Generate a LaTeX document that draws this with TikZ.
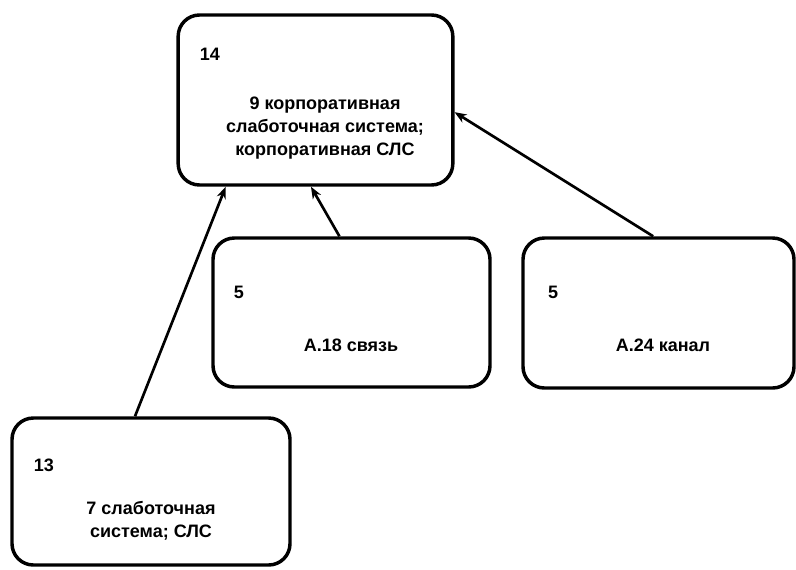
\documentclass[tikz,border=0pt]{standalone}
\usepackage{fontspec}
\setmainfont{Liberation Sans}
\usetikzlibrary{arrows.meta}
\tikzset{
  termbox/.style={draw, line width=2.6pt, rounded corners=16pt, inner sep=0pt},
  numlabel/.style={font=\bfseries\fontsize{13.5}{17}\selectfont},
  termtext/.style={font=\bfseries\fontsize{13.5}{17}\selectfont, align=center},
  link/.style={line width=2pt, -{Stealth[length=9pt,width=7pt]}}
}

\begin{document}
\begin{tikzpicture}[x=0.75pt, y=-0.75pt]
	\useasboundingbox (0,0) rectangle (796,569);
	
	% Boxes
	\node[termbox, minimum width=206pt, minimum height=127.5pt] (b14) at (315.5,100) {};
	\node[termbox, minimum width=207.75pt, minimum height=111.75pt] (b18) at (351.5,312.5) {};
	\node[termbox, minimum width=203.25pt, minimum height=112.5pt] (b24) at (658.5,313) {};
	\node[termbox, minimum width=208.5pt, minimum height=110.25pt] (b13) at (151,491.5) {};
	
	% Numbers
	\node[numlabel] (n14) at (210,54) {14};
	\node[numlabel] (n18) at (239,292) {5};
	\node[numlabel] (n24) at (553,292) {5};
	\node[numlabel] (n13) at (44,465) {13};
	
	% Terms
	\node[termtext] (t14) at (325,128) {9 корпоративная\\слаботочная система;\\корпоративная СЛС};
	\node[termtext] (t18) at (351,345) {А.18 связь};
	\node[termtext] (t24) at (663,345) {А.24 канал};
	\node[termtext] (t13) at (151,521) {7 слаботочная\\система; СЛС};
	
	% Links
	\draw[link] (b13.102.4) -- (b14.-136.5);
	\draw[link] (b18.99.5) -- (b14.-93);
	\draw[link] (b24.94.2) -- (b14.-5.7);
\end{tikzpicture}
\end{document}
